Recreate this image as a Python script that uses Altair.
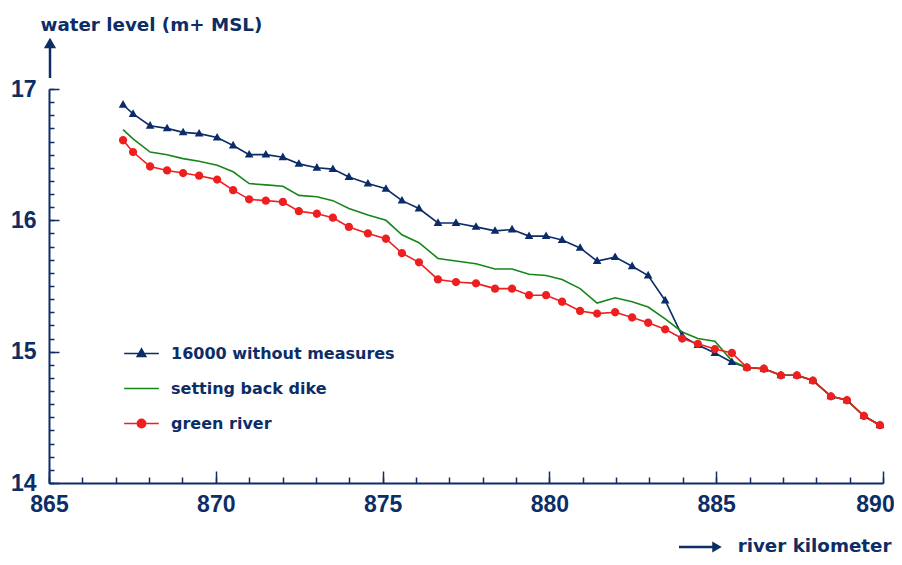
import altair as alt
import pandas as pd

# ---------------- data ----------------
km = [867.22, 867.52, 868.03, 868.54, 869.02, 869.50, 870.04, 870.52, 871.00, 871.50,
      872.01, 872.49, 873.03, 873.51, 873.99, 874.56, 875.10, 875.58, 876.09, 876.66,
      877.20, 877.80, 878.37, 878.88, 879.39, 879.90, 880.38, 880.92, 881.43, 881.97,
      882.48, 882.96, 883.47, 883.98, 884.45, 884.96, 885.47, 885.92, 886.43, 886.94,
      887.42, 887.90, 888.44, 888.92, 889.43, 889.91]

without_measures = [16.88, 16.81, 16.72, 16.70, 16.67, 16.66, 16.63, 16.57, 16.50, 16.50,
                    16.48, 16.43, 16.40, 16.39, 16.33, 16.28, 16.24, 16.15, 16.09, 15.98,
                    15.98, 15.95, 15.92, 15.93, 15.88, 15.88, 15.85, 15.79, 15.69, 15.72,
                    15.65, 15.58, 15.39, 15.12, 15.05, 14.99, 14.92, 14.88, 14.87, 14.82,
                    14.82, 14.78, 14.66, 14.63, 14.51, 14.44]

setting_back_dike = [16.69, 16.62, 16.52, 16.50, 16.47, 16.45, 16.42, 16.37, 16.28, 16.27,
                     16.26, 16.19, 16.18, 16.15, 16.09, 16.04, 16.00, 15.89, 15.83, 15.71,
                     15.69, 15.67, 15.63, 15.63, 15.59, 15.58, 15.55, 15.48, 15.37, 15.41,
                     15.38, 15.34, 15.25, 15.15, 15.10, 15.08, 14.93, 14.88, 14.87, 14.82,
                     14.82, 14.78, 14.66, 14.63, 14.51, 14.44]

green_river = [16.61, 16.52, 16.41, 16.38, 16.36, 16.34, 16.31, 16.23, 16.16, 16.15,
               16.14, 16.07, 16.05, 16.02, 15.95, 15.90, 15.86, 15.75, 15.68, 15.55,
               15.53, 15.52, 15.48, 15.48, 15.43, 15.43, 15.38, 15.31, 15.29, 15.30,
               15.26, 15.22, 15.17, 15.10, 15.06, 15.02, 14.99, 14.88, 14.87, 14.82,
               14.82, 14.78, 14.66, 14.63, 14.51, 14.44]

series_names = ["16000 without measures", "setting back dike", "green river"]
series_values = [without_measures, setting_back_dike, green_river]
series_colors = ["#0b2c69", "#17861a", "#ee1f1f"]

x_labels = [865, 870, 875, 880, 885, 890]
y_labels = [14, 15, 16, 17]
x_minor = list(range(865, 891))
y_minor = [round(14 + 0.1 * i, 1) for i in range(31)]

# ---------------- styling ----------------
NAVY = "#0c2d66"
NUM_FONT = "Liberation Sans"
TXT_FONT = "DejaVu Sans"
W, H = 834, 394

# marker paths (line segment + marker) used by points and legend symbols
shape_paths = [
    "M-1,0H1M0,-0.27L0.25,0.17L-0.25,0.17Z",
    "M-1,0H1",
    "M-1,0H1M0.24,0A0.24,0.24,0,1,1,-0.24,0A0.24,0.24,0,1,1,0.24,0Z",
]

rows = []
for name, vals in zip(series_names, series_values):
    for k, v in zip(km, vals):
        rows.append({"km": k, "level": v, "series": name})
df = pd.DataFrame(rows)

x_scale = alt.Scale(domain=[865, 890], nice=False, zero=False)
y_scale = alt.Scale(domain=[14, 17], nice=False, zero=False)
color_scale = alt.Scale(domain=series_names, range=series_colors)
shape_scale = alt.Scale(domain=series_names, range=shape_paths)

legend = alt.Legend(
    title=None, orient="none", legendX=74, legendY=246,
    symbolSize=1200, symbolStrokeWidth=1.5, rowPadding=8, padding=0,
    labelFont=TXT_FONT, labelFontSize=16, labelFontWeight="bold", labelColor=NAVY,
    labelOffset=11, labelLimit=0,
)

base = alt.Chart(df)

lines = base.mark_line(strokeWidth=1.6).encode(
    x=alt.X("km:Q", scale=x_scale, axis=alt.Axis(
        orient="bottom", values=x_labels, ticks=False, grid=False, format="d",
        domainColor=NAVY, domainWidth=2,
        labelFont=NUM_FONT, labelFontSize=23, labelFontWeight="bold", labelColor=NAVY,
        labelPadding=10, labelOverlap=False, labelFlush=False, labelBound=False,
        labelOffset={"condition": {"test": "datum.value == 890", "value": -8}, "value": 0},
        title="river kilometer", titleFont=TXT_FONT, titleFontSize=18.3,
        titleFontWeight="bold", titleColor=NAVY, titleX=842, titleY=68,
        titleAlign="right", titleBaseline="alphabetic", titleAnchor="end")),
    y=alt.Y("level:Q", scale=y_scale, axis=alt.Axis(
        orient="left", values=y_labels, ticks=False, grid=False, format="d",
        domainColor=NAVY, domainWidth=2,
        labelFont=NUM_FONT, labelFontSize=23, labelFontWeight="bold", labelColor=NAVY,
        labelPadding=13, labelOverlap=False, labelFlush=False, labelBound=False,
        title="water level (m+ MSL)", titleFont=TXT_FONT, titleFontSize=18.3,
        titleFontWeight="bold", titleColor=NAVY, titleAngle=0, titleX=-9, titleY=-59,
        titleAlign="left", titleBaseline="alphabetic")),
    color=alt.Color("series:N", scale=color_scale, legend=None),
)

points = base.mark_point(filled=True, size=1200, opacity=1).encode(
    x=alt.X("km:Q", scale=x_scale, axis=None),
    y=alt.Y("level:Q", scale=y_scale, axis=None),
    color=alt.Color("series:N", scale=color_scale, legend=None),
    shape=alt.Shape("series:N", scale=shape_scale, legend=None),
)

# legend-only layer: one point per series pushed outside the (clipped) plot area
legend_layer = base.transform_filter("datum.km < 867.3").transform_calculate(
    off="100").mark_point(filled=True, size=1200, opacity=1, strokeWidth=1.5,
                          clip=True).encode(
    x=alt.X("km:Q", scale=x_scale, axis=None),
    y=alt.Y("off:Q", scale=y_scale, axis=None),
    color=alt.Color("series:N", scale=color_scale, legend=legend),
    stroke=alt.Stroke("series:N", scale=color_scale, legend=legend),
    shape=alt.Shape("series:N", scale=shape_scale, legend=legend),
)


def tick_layer(xvals, yvals, xsize, ysize):
    return base.mark_point(opacity=0).encode(
        x=alt.X("km:Q", scale=x_scale, axis=alt.Axis(
            orient="top", offset=-H, values=xvals, labels=False, domain=False,
            grid=False, tickSize=xsize, tickColor=NAVY, tickWidth=1.5, title=None)),
        y=alt.Y("level:Q", scale=y_scale, axis=alt.Axis(
            orient="right", offset=-W, values=yvals, labels=False, domain=False,
            grid=False, tickSize=ysize, tickColor=NAVY, tickWidth=1.5, title=None)),
    )


minor_ticks = tick_layer(x_minor, y_minor, 6, 5)
major_ticks = tick_layer(x_labels, y_labels, 12, 10)

one = alt.Data(values=[{"a": 0}])
up_shaft = alt.Chart(one).mark_rule(color=NAVY, strokeWidth=2.5).encode(
    x=alt.value(1), y=alt.value(-42), y2=alt.value(-11))
up_head = alt.Chart(one).mark_point(shape="triangle-up", filled=True, size=150,
                                    color=NAVY, opacity=1).encode(
    x=alt.value(1), y=alt.value(-46))
right_shaft = alt.Chart(one).mark_rule(color=NAVY, strokeWidth=2.5).encode(
    x=alt.value(630), x2=alt.value(665), y=alt.value(458))
right_head = alt.Chart(one).mark_point(shape="triangle-right", filled=True, size=120,
                                       color=NAVY, opacity=1).encode(
    x=alt.value(668), y=alt.value(458))

chart = alt.layer(
    minor_ticks, major_ticks, lines, points, legend_layer,
    up_shaft, up_head, right_shaft, right_head
).resolve_axis(x="independent", y="independent").resolve_legend(
    color="independent", shape="independent", stroke="independent"
).properties(
    width=W, height=H, autosize="none",
    padding={"left": 41, "top": 81, "right": 11, "bottom": 74},
    background="white",
).configure_view(stroke=None)

chart.save("out.html", embed_options={"renderer": "svg", "actions": False})
